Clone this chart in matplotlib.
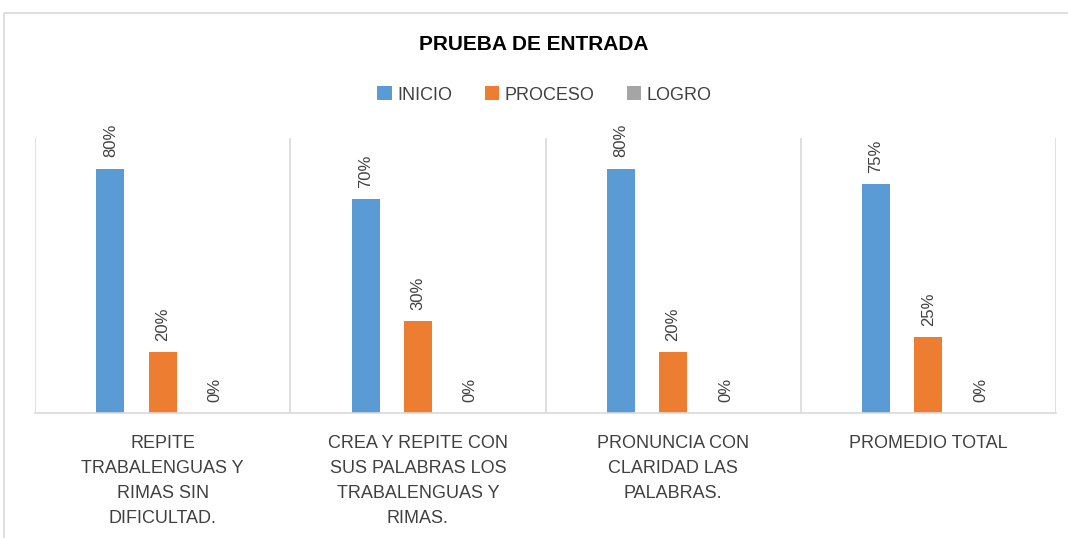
import matplotlib
matplotlib.use("Agg")
import matplotlib.pyplot as plt
from matplotlib.patches import Rectangle, Patch
import numpy as np

categories = ["REPITE\nTRABALENGUAS Y\nRIMAS SIN\nDIFICULTAD.",
              "CREA Y REPITE CON\nSUS PALABRAS LOS\nTRABALENGUAS Y\nRIMAS.",
              "PRONUNCIA CON\nCLARIDAD LAS\nPALABRAS.",
              "PROMEDIO TOTAL"]
series_names = ["INICIO", "PROCESO", "LOGRO"]
inicio = [0.80, 0.70, 0.80, 0.75]
proceso = [0.20, 0.30, 0.20, 0.25]
logro = [0.0, 0.0, 0.0, 0.0]
colors = ["#5B9BD5", "#ED7D31", "#A5A5A5"]

plt.rcParams['font.family'] = ['Liberation Sans', 'DejaVu Sans']

fig = plt.figure(figsize=(10.68, 5.38), dpi=100)
fig.patches.append(Rectangle((4/1068, -0.1), 1.1, 1 - 13/538 + 0.1,
                             transform=fig.transFigure, fill=False,
                             edgecolor="#D9D9D9", linewidth=1.2))

ax = fig.add_axes([35/1068, 1 - 413/538, (1056 - 35)/1068, (413 - 138)/538])
x = np.arange(len(categories))
offsets = [-0.205, 0.0, 0.205]
width = 0.11
for vals, off, c, name in zip([inicio, proceso, logro], offsets, colors, series_names):
    bars = ax.bar(x + off, vals, width, color=c, label=name)
    for b, v in zip(bars, vals):
        ax.annotate(f"{v*100:.0f}%", (b.get_x() + b.get_width()/2, v),
                    xytext=(0, 8), textcoords="offset points",
                    rotation=90, ha="center", va="bottom",
                    fontsize=12, color="#404040")

ax.set_xlim(-0.5, len(categories) - 0.5)
ax.set_ylim(0, 0.9)
ax.set_yticks([])
ax.set_xticks(x)
ax.set_xticklabels(categories, fontsize=13, color="#404040", linespacing=1.62)
ax.tick_params(axis='x', length=0, pad=16)
for s in ["top", "left", "right"]:
    ax.spines[s].set_visible(False)
ax.spines["bottom"].set_color("#D9D9D9")
ax.spines["bottom"].set_linewidth(1.2)
for b in np.arange(-0.5, len(categories), 1.0):
    ax.axvline(b, color="#D9D9D9", linewidth=1.2, zorder=0)

fig.text(0.5, 1 - 45/538, "PRUEBA DE ENTRADA", ha="center", va="center",
         fontsize=15, fontweight="bold", color="#000000")
handles = [Patch(facecolor=c, label=n) for c, n in zip(colors, series_names)]
fig.legend(handles=handles, loc="center", bbox_to_anchor=(0.51, 1 - 95/538),
           ncol=3, frameon=False, fontsize=13, handlelength=0.8, handleheight=0.8,
           handletextpad=0.3, columnspacing=1.8, labelcolor="#404040")

fig.savefig("out.png", dpi=100)
